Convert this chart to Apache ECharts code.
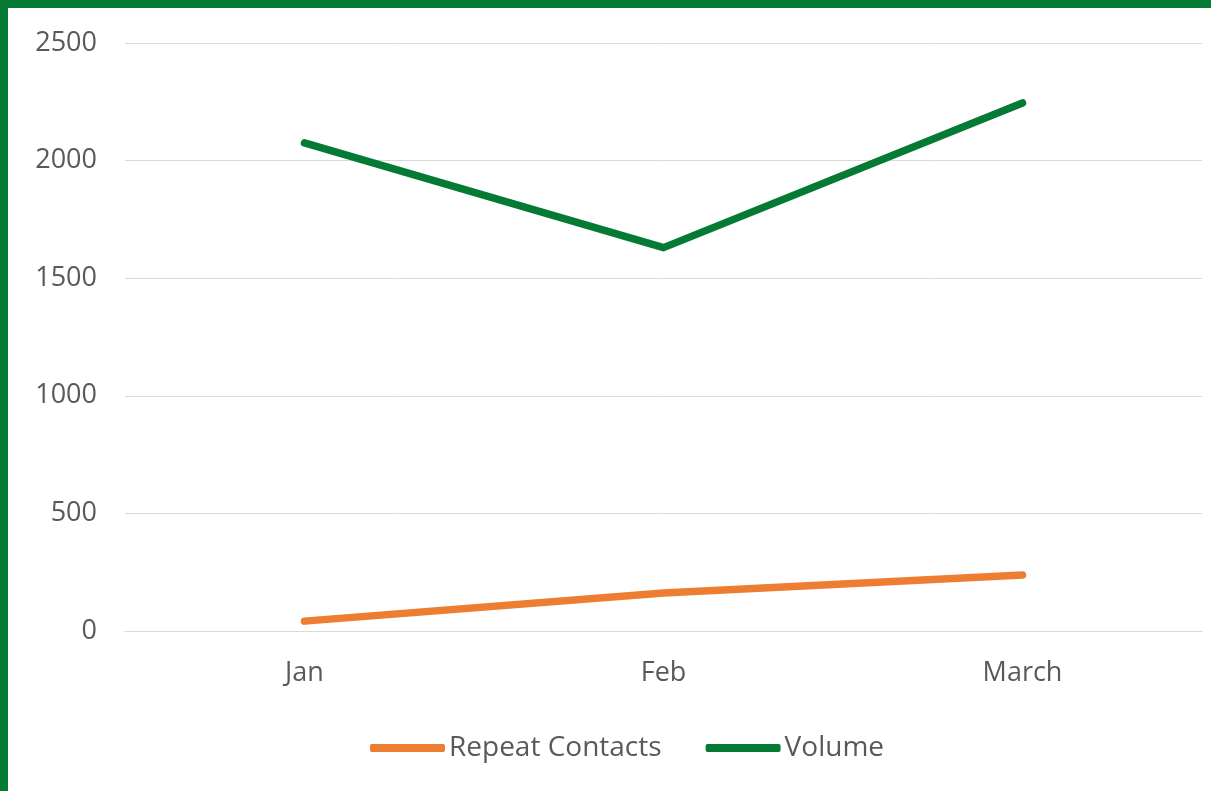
<!DOCTYPE html>
<html>
<head>
<meta charset="utf-8">
<script src="https://cdn.jsdelivr.net/npm/echarts@6/dist/echarts.min.js"></script>
<style>
  html, body { margin: 0; padding: 0; background: #ffffff; }
  #frame {
    position: absolute; left: 0; top: 0; width: 1211px; height: 791px;
    box-sizing: border-box; border-top: 8px solid #047A35; border-left: 8px solid #047A35;
    background: #ffffff;
  }
  #chart { position: absolute; left: 0; top: 0; width: 1203px; height: 783px; }
</style>
</head>
<body>
<div id="frame"><div id="chart"></div></div>
<script>
// Monthly contact figures
const months = ['Jan', 'Feb', 'March'];
const repeatContacts = [42, 162, 238];
const volume = [2075, 1630, 2245];
const yTicks = { min: 0, max: 2500, step: 500 };

const textColor = '#595959';
const fontFamily = 'Open Sans, Liberation Sans, sans-serif';
const fontSize = 27;

const chart = echarts.init(document.getElementById('chart'), null, { renderer: 'canvas' });
chart.setOption({
  animation: false,
  backgroundColor: '#ffffff',
  grid: { left: 117, right: 9, top: 35, bottom: 160, containLabel: false },
  legend: {
    top: 721,
    left: 357,
    itemWidth: 75,
    itemHeight: 8,
    itemGap: 44,
    icon: 'roundRect',
    textStyle: { color: textColor, fontSize: 28, fontFamily: fontFamily, padding: [0, 0, 0, -1] },
    data: ['Repeat Contacts', 'Volume']
  },
  xAxis: {
    type: 'category',
    data: months,
    boundaryGap: true,
    axisLine: { show: true, lineStyle: { color: '#d9d9d9', width: 1 } },
    axisTick: { show: false },
    axisLabel: { color: textColor, fontSize: fontSize, fontFamily: fontFamily, margin: 29 }
  },
  yAxis: {
    type: 'value',
    min: yTicks.min,
    max: yTicks.max,
    interval: yTicks.step,
    axisLine: { show: false },
    axisTick: { show: false },
    axisLabel: {
      color: textColor, fontSize: fontSize, fontFamily: fontFamily, margin: 28,
      formatter: (v) => String(v)
    },
    splitLine: { lineStyle: { color: '#d9d9d9', width: 1 } }
  },
  series: [
    {
      name: 'Repeat Contacts',
      type: 'line',
      data: repeatContacts,
      symbol: 'none',
      lineStyle: { color: '#ED7D31', width: 7.5, cap: 'round', join: 'round' },
      itemStyle: { color: '#ED7D31' }
    },
    {
      name: 'Volume',
      type: 'line',
      data: volume,
      symbol: 'none',
      lineStyle: { color: '#047A35', width: 7.5, cap: 'round', join: 'round' },
      itemStyle: { color: '#047A35' }
    }
  ]
});
</script>
</body>
</html>
